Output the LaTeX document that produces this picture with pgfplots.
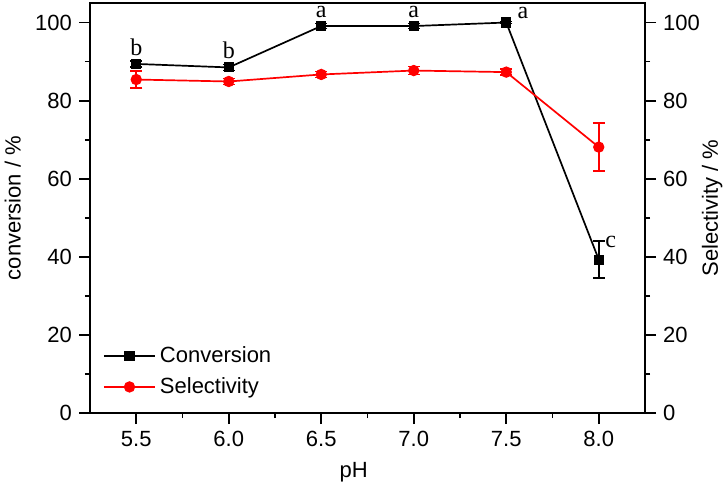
\documentclass[border=0pt]{standalone}
\usepackage{pgfplots}
\pgfplotsset{compat=1.18}
\usepackage{fontspec}
\setmainfont{Liberation Sans}
\newfontfamily\serif{Liberation Serif}

\begin{document}
\begin{tikzpicture}
\pgfplotsset{
  common/.style={
    scale only axis, width=277.5pt, height=205pt,
    xmin=5.25, xmax=8.25, ymin=0, ymax=105,
    tick align=outside, major tick length=5.5pt, minor tick length=2.5pt,
    every tick/.style={line width=0.9pt, black},
    axis line style={line width=1pt},
    ytick={0,20,...,100}, minor y tick num=1,
    tick label style={font=\fontsize{11}{13}\selectfont},
    label style={font=\fontsize{11}{13}\selectfont},
    /pgf/number format/assume math mode=true,
  },
  errs/.style={error bars/.cd, y dir=both, y explicit,
    error bar style={line width=0.8pt},
    error mark options={rotate=90, mark size=3pt, line width=0.8pt}},
}
% conversion, left axis
\begin{axis}[common, name=main,
  xtick={5.5,6.0,6.5,7.0,7.5,8.0}, minor x tick num=1,
  xtick pos=bottom, ytick pos=left,
  xticklabel style={/pgf/number format/.cd, fixed, fixed zerofill, precision=1},
  xlabel={pH}, ylabel={conversion / \%},
  xlabel style={at={(axis description cs:0.475,-0.145)}, anchor=center},
  ylabel style={at={(axis description cs:-0.139,0.5)}, anchor=center},
  legend style={at={(0.012,0.02)}, anchor=south west, draw=none, fill=none,
    font=\fontsize{11}{13}\selectfont, row sep=2pt},
  legend cell align=left,
  legend image code/.code={\draw[mark repeat=2, mark phase=2] plot coordinates {(0cm,0cm) (0.45cm,0cm) (0.9cm,0cm)};},
]
\addplot[black, line width=0.85pt, mark=square*, mark size=2.1pt, errs]
  coordinates {
  (5.5,89.4) +- (0,0.8)
  (6.0,88.5) +- (0,0.8)
  (6.5,99.1) +- (0,0.6)
  (7.0,99.1) +- (0,0.6)
  (7.5,100.0) +- (0,0.3)
  (8.0,39.3) +- (0,4.7)
};
\addlegendentry{Conversion}
\addlegendimage{red, line width=0.85pt, mark=*, mark size=2.4pt}
\addlegendentry{Selectivity}
\node[font=\serif\fontsize{12}{14}\selectfont] at (axis cs:5.5,93.6) {b};
\node[font=\serif\fontsize{12}{14}\selectfont] at (axis cs:6.0,92.8) {b};
\node[font=\serif\fontsize{12}{14}\selectfont] at (axis cs:6.5,102.6) {a};
\node[font=\serif\fontsize{12}{14}\selectfont] at (axis cs:7.0,102.6) {a};
\node[font=\serif\fontsize{12}{14}\selectfont] at (axis cs:7.59,102.4) {a};
\node[font=\serif\fontsize{12}{14}\selectfont] at (axis cs:8.065,43.8) {c};
\end{axis}
% selectivity, right axis
\begin{axis}[common,
  axis x line=none, axis y line*=right,
  ylabel={Selectivity / \%},
  ylabel style={at={(axis description cs:1.121,0.5)}, anchor=center},
]
\addplot[red, line width=0.85pt, mark=*, mark size=2.4pt, errs]
  coordinates {
  (5.5,85.4) +- (0,2.2)
  (6.0,84.9) +- (0,0.8)
  (6.5,86.7) +- (0,0.8)
  (7.0,87.7) +- (0,1.0)
  (7.5,87.3) +- (0,0.8)
  (8.0,68.1) +- (0,6.1)
};
\end{axis}
\pgfresetboundingbox
\path[use as bounding box] ([shift={(-45pt,-37.5pt)}]main.south west) rectangle ([shift={(40pt,1.5pt)}]main.north east);
\end{tikzpicture}
\end{document}
